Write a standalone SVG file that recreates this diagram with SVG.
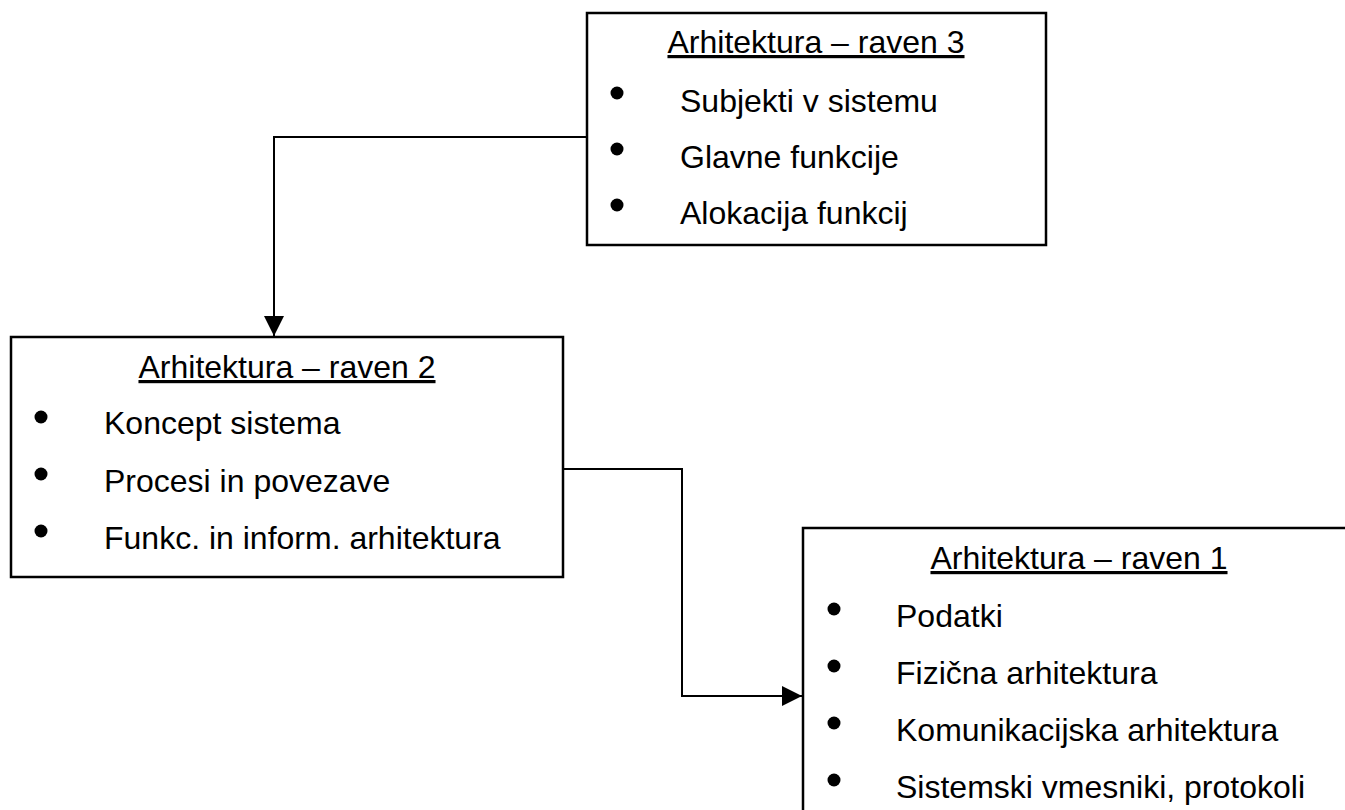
<svg xmlns="http://www.w3.org/2000/svg" width="1345" height="810" viewBox="0 0 1345 810">
  <style>
    .box { fill: #ffffff; stroke: #000000; stroke-width: 2.5; }
    .title { font-family: "Liberation Sans", Arial, sans-serif; font-size: 32px; fill: #000000; text-anchor: middle; text-decoration: underline; }
    .item { font-family: "Liberation Sans", Arial, sans-serif; font-size: 32px; fill: #000000; }
    .dot { fill: #000000; }
    .link { fill: none; stroke: #000000; stroke-width: 2; }
  </style>
  <defs>
    <marker id="arrow" markerUnits="userSpaceOnUse" markerWidth="20" markerHeight="20" refX="20" refY="10" orient="auto">
      <path d="M0,0 L20,10 L0,20 z" fill="#000000"/>
    </marker>
  </defs>
  <rect width="1345" height="810" fill="#ffffff"/>

  <!-- connectors -->
  <g id="connectors">
    <path class="link" d="M587,137 H274 V336" marker-end="url(#arrow)"/>
    <path class="link" d="M563,469 H682 V696 H802" marker-end="url(#arrow)"/>
  </g>

  <!-- level 3 -->
  <g id="level3">
    <rect class="box" x="587" y="13" width="459" height="232"/>
    <text class="title" x="816" y="53">Arhitektura – raven 3</text>
    <circle class="dot" cx="617" cy="93" r="6.5"/>
    <text class="item" x="680" y="112">Subjekti v sistemu</text>
    <circle class="dot" cx="617" cy="149" r="6.5"/>
    <text class="item" x="680" y="168">Glavne funkcije</text>
    <circle class="dot" cx="617" cy="205" r="6.5"/>
    <text class="item" x="680" y="224">Alokacija funkcij</text>
  </g>

  <!-- level 2 -->
  <g id="level2">
    <rect class="box" x="11" y="337" width="552" height="240"/>
    <text class="title" x="287" y="378">Arhitektura – raven 2</text>
    <circle class="dot" cx="41" cy="417" r="6.5"/>
    <text class="item" x="104" y="434">Koncept sistema</text>
    <circle class="dot" cx="41" cy="474" r="6.5"/>
    <text class="item" x="104" y="492">Procesi in povezave</text>
    <circle class="dot" cx="41" cy="531" r="6.5"/>
    <text class="item" x="104" y="549">Funkc. in inform. arhitektura</text>
  </g>

  <!-- level 1 -->
  <g id="level1">
    <rect class="box" x="803" y="528" width="552" height="300"/>
    <text class="title" x="1079" y="569">Arhitektura – raven 1</text>
    <circle class="dot" cx="834" cy="609" r="6.5"/>
    <text class="item" x="896" y="627">Podatki</text>
    <circle class="dot" cx="834" cy="666" r="6.5"/>
    <text class="item" x="896" y="684">Fizična arhitektura</text>
    <circle class="dot" cx="834" cy="723" r="6.5"/>
    <text class="item" x="896" y="741">Komunikacijska arhitektura</text>
    <circle class="dot" cx="834" cy="780" r="6.5"/>
    <text class="item" x="896" y="798">Sistemski vmesniki, protokoli</text>
  </g>
</svg>
